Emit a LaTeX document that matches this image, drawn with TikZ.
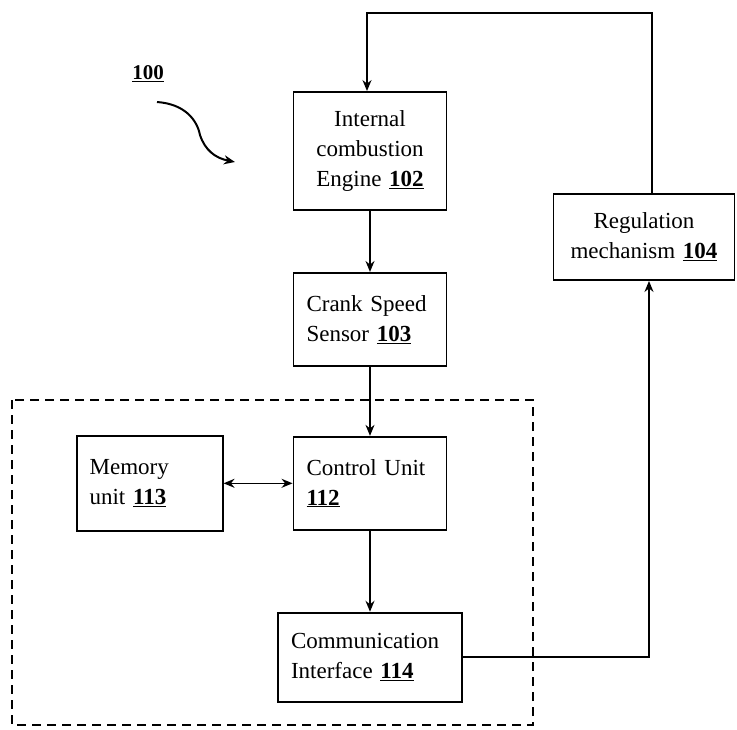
\documentclass[tikz,border=0pt]{standalone}
\usepackage{fontspec}
\setmainfont{Liberation Serif}
\usetikzlibrary{arrows.meta, positioning}

\newcommand{\refno}[1]{\underline{\textbf{#1}}}

\tikzset{
    unit/.style={draw, line width=1.9pt, inner ysep=0pt, font=\fontsize{23}{30}\selectfont},
    leftbox/.style={unit, align=left, inner xsep=13pt},
    midbox/.style={unit, align=center, inner xsep=0pt},
    link/.style={line width=1.5pt, ->},
}

\begin{document}
\begin{tikzpicture}[x=1pt, y=-1pt, >={Stealth[length=11pt, width=9pt]}]
    \useasboundingbox (0,0) rectangle (737,729);
    \node[midbox, text width=153pt, minimum height=118pt] (engine) at (370,151) {Internal\\combustion\\Engine \refno{102}};
    \node[leftbox, text width=127pt, minimum height=93pt, below=61pt of engine] (crank) {Crank Speed\\Sensor \refno{103}};
    \node[leftbox, text width=127pt, minimum height=93pt, below=69pt of crank] (control) {Control Unit\\\refno{112}};
    \node[leftbox, text width=120pt, minimum height=95pt, left=69pt of control] (memory) {Memory\\unit \refno{113}};
    \node[leftbox, text width=158pt, minimum height=89pt, below=81pt of control] (comm) {Communication\\Interface \refno{114}};
    \node[midbox, text width=181pt, minimum height=86pt] (reg) at (644,237) {Regulation\\mechanism \refno{104}};
    \node[font=\fontsize{21}{24}\selectfont] (label) at (148,74) {\refno{100}};
    \coordinate (loop) at (500,13);

    % control boundary
    \draw[line width=1.8pt, dash pattern=on 9pt off 6pt] (12,400) rectangle (533,725);

    \draw[link] (engine) -- (crank);
    \draw[link] (crank) -- (control);
    \draw[link, <->] (memory) -- (control);
    \draw[link] (control) -- (comm);
    \draw[link] (comm.east) -| ([xshift=5pt]reg.south);
    \draw[link] ([xshift=8pt]reg.north) |- (loop) -| ([xshift=-3pt]engine.north);
    \draw[link, line width=2pt] (157,102) .. controls (185,104) and (197,120) .. (200,135) .. controls (205,150) and (215,158) .. (235,162);
\end{tikzpicture}
\end{document}
